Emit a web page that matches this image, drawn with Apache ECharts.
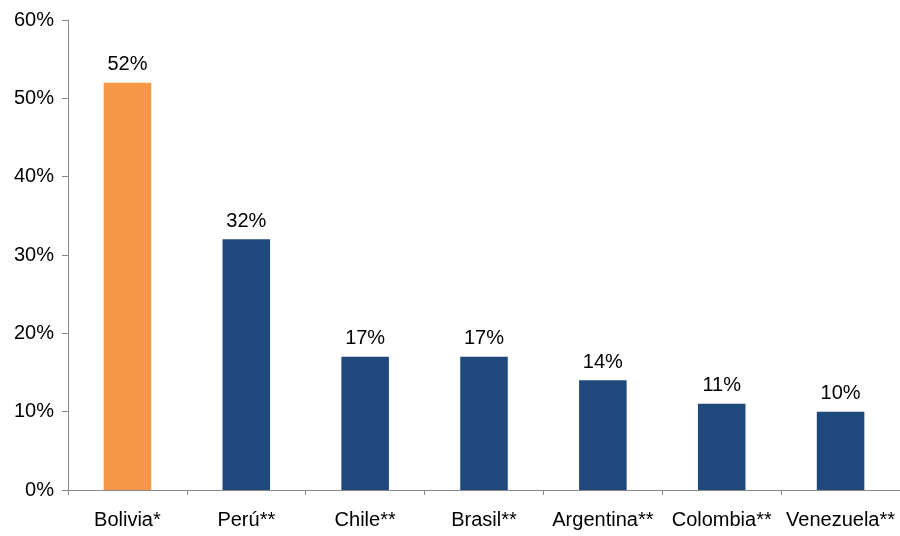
<!DOCTYPE html>
<html><head><meta charset="utf-8">
<script src="https://cdn.jsdelivr.net/npm/echarts@6/dist/echarts.min.js"></script>
<style>html,body{margin:0;padding:0;background:#fff}#c{width:900px;height:536px}</style>
</head><body><div id="c"></div>
<script>
const categories = ["Bolivia*", "Perú**", "Chile**", "Brasil**", "Argentina**", "Colombia**", "Venezuela**"];
const values = [52, 32, 17, 17, 14, 11, 10];
const barColors = ["#F79646", "#1F497D", "#1F497D", "#1F497D", "#1F497D", "#1F497D", "#1F497D"];
const yTicks = [0, 10, 20, 30, 40, 50, 60];

const chart = echarts.init(document.getElementById('c'), null, {renderer: 'canvas'});
const font = 'Liberation Sans, Arial, sans-serif';
chart.setOption({
  animation: false,
  backgroundColor: '#fff',
  grid: {left: 68, top: 20, width: 835, bottom: 46, containLabel: false},
  xAxis: {
    type: 'category', data: categories,
    axisLine: {lineStyle: {color: '#888', width: 1}},
    axisTick: {show: true, interval: 0, length: 5, lineStyle: {color: '#888'}},
    axisLabel: {interval: 0, hideOverlap: false, color: '#000', fontFamily: font, fontSize: 20, margin: 20}
  },
  yAxis: {
    type: 'value', min: yTicks[0], max: yTicks[yTicks.length - 1], interval: 10,
    splitLine: {show: false},
    axisLine: {show: true, lineStyle: {color: '#888', width: 1}},
    axisTick: {show: true, length: 6, lineStyle: {color: '#888'}},
    axisLabel: {color: '#000', fontFamily: font, fontSize: 20, margin: 14, formatter: v => v + '%'}
  },
  series: [{
    type: 'bar',
    data: values.map((v, i) => ({value: v, itemStyle: {color: barColors[i]}})),
    barWidth: '40%',
    label: {show: true, position: 'top', distance: 8, color: '#000', fontFamily: font, fontSize: 20, formatter: p => p.value + '%'}
  }]
});
</script></body></html>
